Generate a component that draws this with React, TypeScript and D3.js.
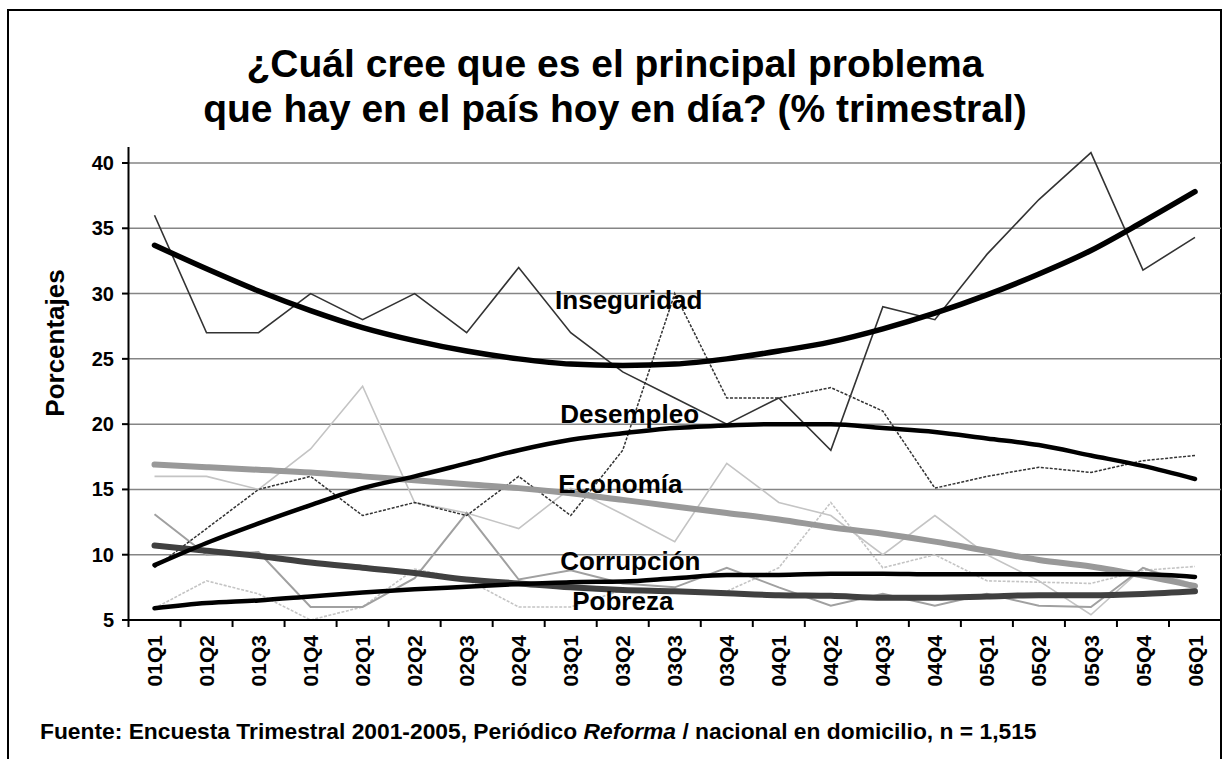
import * as d3 from 'd3';

const categories = [
  '01Q1', '01Q2', '01Q3', '01Q4', '02Q1', '02Q2', '02Q3', '02Q4',
  '03Q1', '03Q2', '03Q3', '03Q4', '04Q1', '04Q2', '04Q3', '04Q4',
  '05Q1', '05Q2', '05Q3', '05Q4', '06Q1',
];

// raw quarterly series (thin lines)
const inseguridadRaw = [36, 27, 27, 30, 28, 30, 27, 32, 27, 24, 22, 20, 22, 18, 29, 28, 33, 37.2, 40.8, 31.8, 34.3];
const desempleoRaw = [9, 12, 15, 16, 13, 14, 13, 16, 13, 18, 30, 22, 22, 22.8, 21, 15.1, 16, 16.7, 16.3, 17.2, 17.6];
const economiaRaw = [16, 16, 15, 18.1, 22.9, 14, 13.2, 12, 15.1, 13.1, 11, 17, 14, 13, 10, 13, 10, 8, 5.4, 9, 7.7];
const corrupcionRaw = [5.9, 8, 7, 5, 6, 8.9, 8.1, 6, 6, 7.3, 7.1, 7.2, 9, 14, 9, 10, 8, 7.9, 7.8, 8.8, 9.1];
const pobrezaRaw = [13.1, 10, 10.2, 6, 6, 8.2, 13.2, 8.1, 8.8, 7.8, 7.5, 9, 7.5, 6.1, 7, 6.1, 7, 6.1, 6, 9, 7.5];

// trend series (thick lines)
const inseguridadTrend = [33.7, 31.9, 30.2, 28.7, 27.4, 26.4, 25.6, 25.0, 24.6, 24.5, 24.6, 25.0, 25.6, 26.3, 27.3, 28.5, 29.9, 31.5, 33.3, 35.5, 37.8];
const desempleoTrend = [9.2, 10.9, 12.4, 13.8, 15.1, 16.0, 17.0, 18.0, 18.8, 19.3, 19.7, 19.9, 20.0, 20.0, 19.7, 19.4, 18.9, 18.4, 17.6, 16.8, 15.8];
const economiaTrend = [16.9, 16.7, 16.5, 16.3, 16.0, 15.7, 15.4, 15.1, 14.7, 14.2, 13.7, 13.2, 12.7, 12.1, 11.6, 11.0, 10.3, 9.6, 9.1, 8.4, 7.6];
const pobrezaTrend = [10.7, 10.3, 9.9, 9.4, 9.0, 8.6, 8.1, 7.8, 7.5, 7.3, 7.2, 7.05, 6.9, 6.85, 6.7, 6.7, 6.8, 6.9, 6.9, 7.0, 7.2];
const corrupcionTrend = [5.9, 6.3, 6.5, 6.8, 7.1, 7.35, 7.55, 7.75, 7.9, 7.95, 8.2, 8.45, 8.45, 8.55, 8.55, 8.5, 8.5, 8.5, 8.5, 8.5, 8.3];

const yTicks = [5, 10, 15, 20, 25, 30, 35, 40];

// label text, position along the category axis (fractional index) and value at the baseline
const seriesLabels = [
  { text: 'Inseguridad', at: 7.7, value: 28.85 },
  { text: 'Desempleo', at: 7.8, value: 20.1 },
  { text: 'Economía', at: 7.76, value: 14.75 },
  { text: 'Corrupción', at: 7.8, value: 8.8 },
  { text: 'Pobreza', at: 8.03, value: 5.8 },
];

const W = 1222;
const H = 759;
const FONT = '"Liberation Sans", Arial, Helvetica, sans-serif';

export default function App() {
  const x = d3.scaleBand<string>().domain(categories).range([128.5, 1221]).padding(0);
  const xAt = (f: number) => x.range()[0] + (f + 0.5) * x.bandwidth();
  const y = d3.scaleLinear().domain([5, 40]).range([620, 163]);

  const straight = d3.line<number>().x((_, i) => xAt(i)).y(d => y(d));
  const smooth = d3.line<number>().x((_, i) => xAt(i)).y(d => y(d)).curve(d3.curveMonotoneX);

  const thin = [
    { data: economiaRaw, stroke: '#c4c4c4', width: 1.6, dash: undefined },
    { data: corrupcionRaw, stroke: '#c4c4c4', width: 1.6, dash: '3,1.5' },
    { data: pobrezaRaw, stroke: '#a0a0a0', width: 2, dash: undefined },
    { data: desempleoRaw, stroke: '#333333', width: 1.5, dash: '3,1.5' },
    { data: inseguridadRaw, stroke: '#333333', width: 1.6, dash: undefined },
  ];

  const thick = [
    { data: economiaTrend, stroke: '#999999', width: 6 },
    { data: pobrezaTrend, stroke: '#404040', width: 6 },
    { data: corrupcionTrend, stroke: '#000000', width: 4.5 },
    { data: desempleoTrend, stroke: '#000000', width: 4.5 },
    { data: inseguridadTrend, stroke: '#000000', width: 5.5 },
  ];

  const bounds = categories.map(c => x(c) || 0).concat([x.range()[1]]);

  return (
    <svg
      width={W}
      height={H}
      style={{ position: 'absolute', left: 0, top: 0, background: '#fff' }}
      fontFamily={FONT}
      fontWeight="bold"
    >
      <rect x={0} y={0} width={W} height={H} fill="#fff" />
      {/* chart frame */}
      <path d="M8,770 V10 H1221 V770" fill="none" stroke="#000" strokeWidth={2} />

      {/* title */}
      <text x={615} y={77} textAnchor="middle" fontSize={39}>
        ¿Cuál cree que es el principal problema
      </text>
      <text x={615} y={122} textAnchor="middle" fontSize={39}>
        que hay en el país hoy en día? (% trimestral)
      </text>

      {/* gridlines */}
      {yTicks.slice(1).map(t => (
        <line key={t} x1={128.5} x2={1221} y1={y(t)} y2={y(t)} stroke="#858585" strokeWidth={1.5} />
      ))}

      {/* raw lines */}
      {thin.map((s, i) => (
        <path
          key={'t' + i}
          d={straight(s.data) || ''}
          fill="none"
          stroke={s.stroke}
          strokeWidth={s.width}
          strokeDasharray={s.dash}
        />
      ))}

      {/* trend lines */}
      {thick.map((s, i) => (
        <path
          key={'k' + i}
          d={smooth(s.data) || ''}
          fill="none"
          stroke={s.stroke}
          strokeWidth={s.width}
          strokeLinecap="round"
          strokeLinejoin="round"
        />
      ))}

      {/* y axis */}
      <line x1={128.5} x2={128.5} y1={147} y2={621} stroke="#000" strokeWidth={2} />
      {yTicks.map(t => (
        <g key={t}>
          <line x1={122} x2={128.5} y1={y(t)} y2={y(t)} stroke="#000" strokeWidth={2} />
          <text x={114} y={y(t)} dy="0.35em" textAnchor="end" fontSize={20}>
            {t}
          </text>
        </g>
      ))}
      <text transform="translate(64,343) rotate(-90)" textAnchor="middle" fontSize={26}>
        Porcentajes
      </text>

      {/* x axis */}
      <line x1={127.5} x2={1222} y1={620} y2={620} stroke="#000" strokeWidth={2} />
      {bounds.map((b, i) => (
        <line key={i} x1={b} x2={b} y1={620} y2={627} stroke="#000" strokeWidth={2} />
      ))}
      {categories.map((c, i) => (
        <text
          key={c}
          transform={`translate(${xAt(i)},635) rotate(-90)`}
          dy="0.36em"
          textAnchor="end"
          fontSize={21}
        >
          {c}
        </text>
      ))}

      {/* series labels */}
      {seriesLabels.map(l => (
        <text key={l.text} x={xAt(l.at)} y={y(l.value)} fontSize={26}>
          {l.text}
        </text>
      ))}

      {/* source */}
      <text x={40} y={739} fontSize={22.8}>
        Fuente: Encuesta Trimestral 2001-2005, Periódico <tspan fontStyle="italic">Reforma</tspan> / nacional en domicilio,{'  '}n = 1,515
      </text>
    </svg>
  );
}
